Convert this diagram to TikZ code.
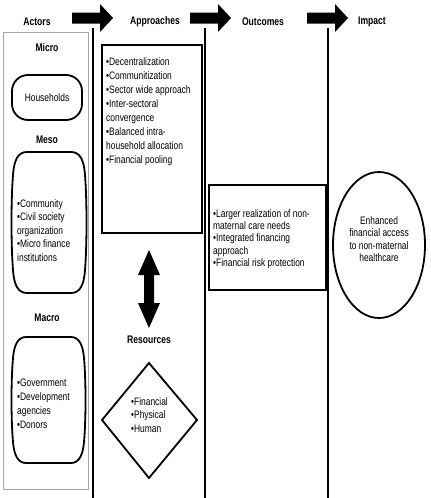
\documentclass[tikz,border=0pt]{standalone}
\usepackage{fontspec}
\setmainfont[FakeStretch=0.78]{Liberation Sans}
\begin{document}
\begin{tikzpicture}[x=1pt,y=-1pt,
  hdr/.style={font=\bfseries\fontsize{11}{12}\selectfont, inner sep=0pt},
  txt/.style={font=\fontsize{10.8}{14}\selectfont, align=left, inner sep=0pt, anchor=north west},
  txtb/.style={font=\fontsize{10.8}{12.4}\selectfont, align=left, inner sep=0pt, anchor=north west},
  ctxt/.style={font=\fontsize{10.8}{12.5}\selectfont, align=center, inner sep=0pt},
  bx/.style={draw, line width=1.8pt},
  vline/.style={line width=2.2pt},
  barrow/.pic={\fill (0,-5.5) -- (28,-5.5) -- (28,-14) -- (41,0) -- (28,14) -- (28,5.5) -- (0,5.5) -- cycle;}
]
\useasboundingbox (0,0) rectangle (431,498);

% headers
\node[hdr] (hact) at (37,22) {Actors};
\node[hdr] (happ) at (155,22) {Approaches};
\node[hdr] (hout) at (263,22) {Outcomes};
\node[hdr] (himp) at (372,22) {Impact};
\pic at (72,18) {barrow};
\pic at (190,18) {barrow};
\pic at (307,18) {barrow};

% vertical separators
\coordinate (v1t) at (93,28); \coordinate (v1b) at (93,498);
\coordinate (v2t) at (205,28); \coordinate (v2b) at (205,498);
\coordinate (v3t) at (328,28); \coordinate (v3b) at (328,498);
\draw[vline] (v1t) -- (v1b);
\draw[vline] (v2t) -- (v2b);
\draw[vline] (v3t) -- (v3b);

% actors
\draw[gray!70, line width=0.9pt] (3,32) rectangle (88,489);
\node[hdr] (micro) at (47,48) {Micro};
\draw[bx, rounded corners=16pt] (12,75) rectangle (82,120);
\node[ctxt] (hh) at (47,98) {Households};
\node[hdr] (meso) at (47,140) {Meso};
\draw[bx] (27,152) -- (71,152) .. controls (80,152) and (84,160) .. (85,175)
  .. controls (87,200) and (87,245) .. (85,270)
  .. controls (84,285) and (80,293) .. (71,293)
  -- (27,293) .. controls (18,293) and (14,285) .. (13,270)
  .. controls (11,245) and (11,200) .. (13,175)
  .. controls (14,160) and (18,152) .. (27,152) -- cycle;
\node[txt, font=\fontsize{10.8}{13.5}\selectfont] (mesot) at (17,199) {•Community\\•Civil society\\organization\\•Micro finance\\institutions};
\node[hdr] (macro) at (47,318) {Macro};
\draw[bx] (26,337) -- (71,337) .. controls (79,337) and (83,345) .. (84,358)
  .. controls (86,380) and (86,420) .. (84,442)
  .. controls (83,455) and (79,463) .. (71,463)
  -- (26,463) .. controls (18,463) and (14,455) .. (13,442)
  .. controls (11,420) and (11,380) .. (13,358)
  .. controls (14,345) and (18,337) .. (26,337) -- cycle;
\node[txt] (macrot) at (17,379) {•Government\\•Development\\agencies\\•Donors};

% approaches
\draw[bx] (102,45) rectangle (202,233);
\node[txt] (appt) at (106,57) {•Decentralization\\•Communitization\\•Sector wide approach\\•Inter-sectoral\\convergence\\•Balanced intra-\\household allocation\\•Financial pooling};
\fill (149,250) -- (160,275) -- (154,275) -- (154,303) -- (160,303) -- (149,328)
  -- (138,303) -- (144,303) -- (144,275) -- (138,275) -- cycle;
\node[hdr] (res) at (149,340) {Resources};
\draw[bx] (149,363) -- (197,420) -- (149,478) -- (102,420) -- cycle;
\node[txt, font=\fontsize{10.8}{13.5}\selectfont] (rest) at (131,397) {•Financial\\•Physical\\•Human};

% outcomes
\draw[bx] (209,185) rectangle (326,290);
\node[txtb] (outt) at (213,209) {•Larger realization of non-\\maternal care needs\\•Integrated financing\\approach\\•Financial risk protection};

% impact
\draw[bx] (379,245) ellipse (46 and 73);
\node[ctxt] (impt) at (379,239) {Enhanced\\financial access\\to non-maternal\\healthcare};
\end{tikzpicture}
\end{document}
